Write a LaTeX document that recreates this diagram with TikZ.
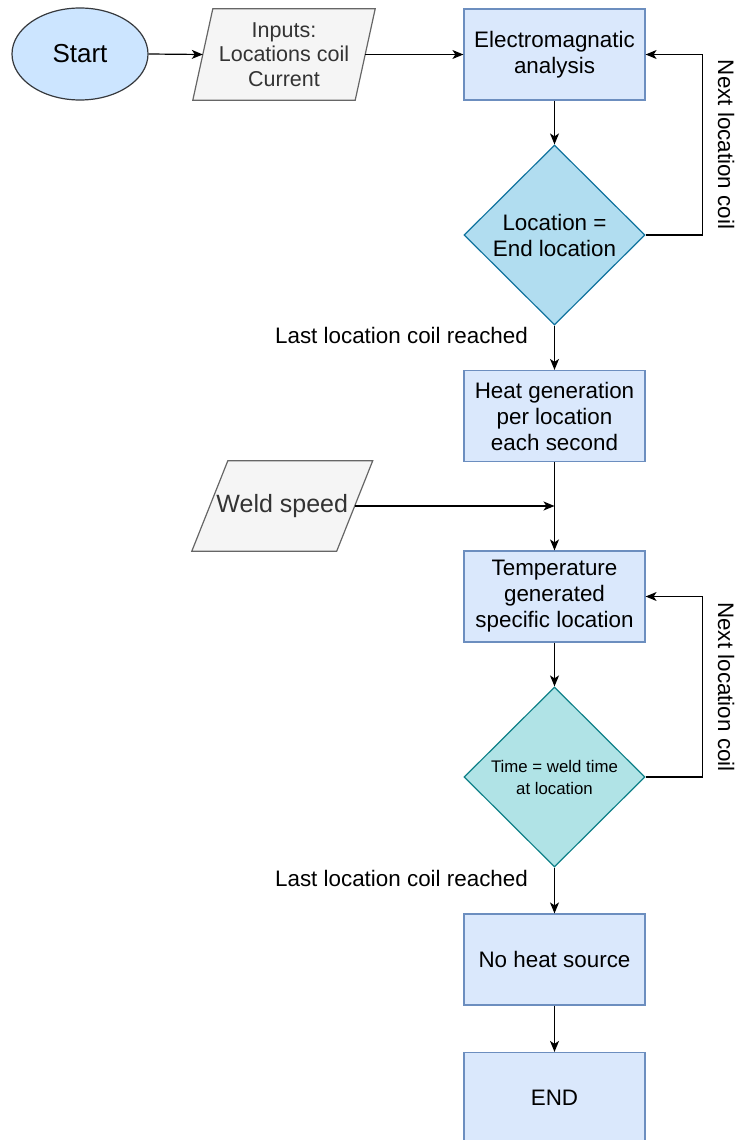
\documentclass[tikz,border=0pt]{standalone}
\usepackage{fontspec}
\setmainfont{Liberation Sans}
\usetikzlibrary{shapes.geometric,arrows.meta,calc,backgrounds}

\definecolor{boxfill}{HTML}{DAE8FC}
\definecolor{boxline}{HTML}{6C8EBF}
\definecolor{startfill}{HTML}{CCE5FF}
\definecolor{startline}{HTML}{36393D}
\definecolor{iofill}{HTML}{F5F5F5}
\definecolor{ioline}{HTML}{666666}
\definecolor{iotext}{HTML}{333333}
\definecolor{decAfill}{HTML}{B1DDF0}
\definecolor{decAline}{HTML}{10739E}
\definecolor{decBfill}{HTML}{B0E3E6}
\definecolor{decBline}{HTML}{0E8088}

\tikzset{
  txt/.style={font=\fontsize{22.4}{26}\selectfont},
  procbox/.style={rectangle, draw=boxline, fill=boxfill, line width=1.2pt,
    minimum width=181pt, minimum height=91pt, inner sep=0pt, align=center, txt},
  startnode/.style={ellipse, draw=startline, fill=startfill, line width=1.2pt,
    minimum width=136pt, minimum height=92pt, inner sep=0pt,
    font=\fontsize{26}{30}\selectfont},
  iobox/.style={rectangle, draw=none, inner sep=0pt, align=center, text=iotext},
  iooutline/.style={draw=ioline, fill=iofill, line width=1.2pt},
  decision/.style={diamond, line width=1.2pt, minimum width=181pt,
    minimum height=180pt, inner sep=0pt, align=center},
  flow/.style={line width=1.2pt, -{Stealth[length=11pt,width=9pt,inset=3pt]}},
  note/.style={txt, inner sep=0pt},
}

\begin{document}
\begin{tikzpicture}[x=1pt,y=-1pt]
  \useasboundingbox (0,0) rectangle (735,1140);

  % start and inputs
  \node[startnode] (start) at (80,54) {Start};
  \node[iobox, minimum width=162pt, minimum height=91pt,
        font=\fontsize{21.5}{24.5}\selectfont] (inputs) at (284,54.5)
        {Inputs:\\Locations coil\\Current};

  % process boxes
  \node[procbox] (em)     at (554.5,54.5)  {Electromagnatic\\analysis};
  \node[decision, draw=decAline, fill=decAfill, txt] (d1) at (554.5,235)
        {Location =\\End location};
  \node[procbox] (heat)   at (554.5,416)   {Heat generation\\per location\\each second};
  \node[iobox, minimum width=144.5pt, minimum height=90pt,
        font=\fontsize{25}{30}\selectfont] (weld) at (282.25,506) {Weld speed};
  \node[procbox] (temp)   at (554.5,596.5) {Temperature\\generated\\specific location};
  \node[decision, draw=decBline, fill=decBfill,
        font=\fontsize{16.8}{22}\selectfont] (d2) at (554.5,777)
        {Time = weld time\\at location};
  \node[procbox] (noheat) at (554.5,959.5) {No heat source};
  \node[procbox] (finish) at (554.5,1098)  {END};

  % parallelogram outlines behind the input texts
  \begin{scope}[on background layer]
    \draw[iooutline]
      ($(inputs.north west)+(10,0)$) -- ($(inputs.north east)+(10,0)$) --
      ($(inputs.south east)+(-10,0)$) -- ($(inputs.south west)+(-10,0)$) -- cycle;
    \draw[iooutline]
      ($(weld.north west)+(18,0)$) -- ($(weld.north east)+(18,0)$) --
      ($(weld.south east)+(-18,0)$) -- ($(weld.south west)+(-18,0)$) -- cycle;
  \end{scope}

  % main flow
  \draw[flow] (start.east) -- (inputs.west);
  \draw[flow] (inputs.east) -- (em.west);
  \draw[flow] (em.south) -- (d1.north);
  \draw[flow] (d1.south) --
    node[note, pos=0.22, anchor=east, xshift=-26pt] (reach1) {Last location coil reached}
    (heat.north);
  \draw[flow] (heat.south) -- (temp.north);
  \draw[flow] (weld.east) -- (weld.east -| heat.south);
  \draw[flow] (temp.south) -- (d2.north);
  \draw[flow] (d2.south) --
    node[note, pos=0.23, anchor=east, xshift=-26pt] (reach2) {Last location coil reached}
    (noheat.north);
  \draw[flow] (noheat.south) -- (finish.north);

  % feedback loops
  \draw[flow] (d1.east) -- ++(57,0) |- (em.east);
  \draw[flow] (d2.east) -- ++(57,0) |- (temp.east);
  \node[note, rotate=-90, anchor=base] (next1) at (718,144.5) {Next location coil};
  \node[note, rotate=-90, anchor=base] (next2) at (718,687) {Next location coil};
\end{tikzpicture}
\end{document}
